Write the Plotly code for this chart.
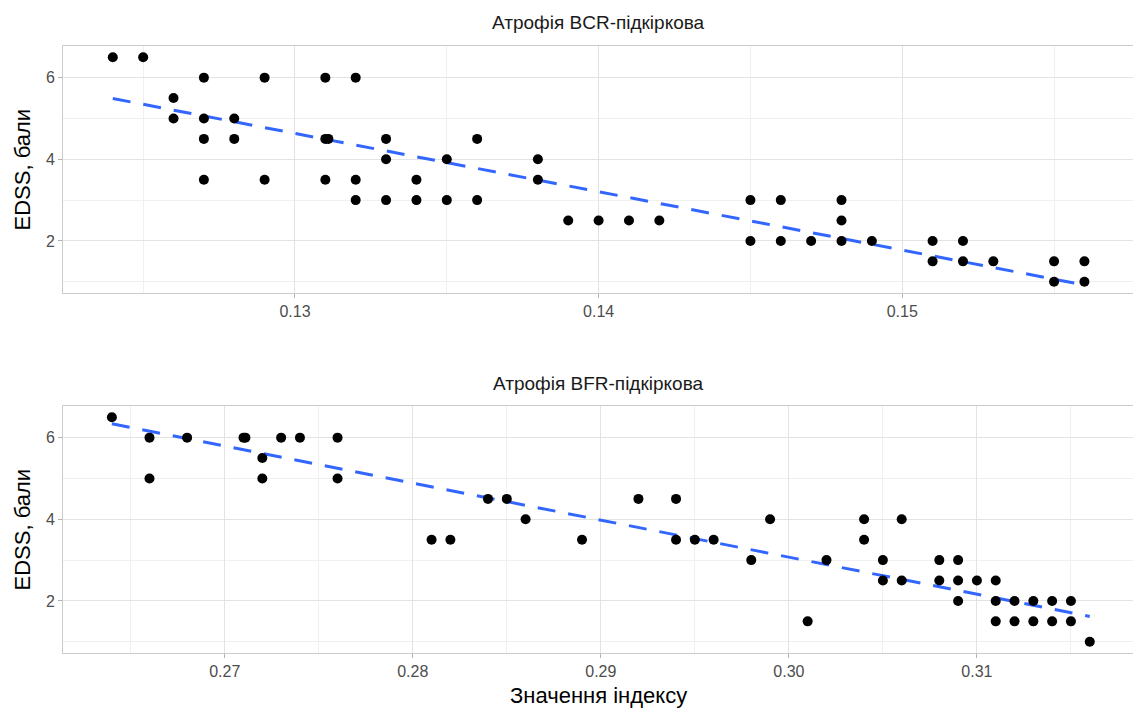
import numpy as np
import plotly.graph_objects as go

# ---- data: top panel (BCR) ----
bcr_x = [0.124, 0.125, 0.126, 0.126, 0.127, 0.127, 0.127, 0.127, 0.128, 0.128,
         0.129, 0.129, 0.131, 0.131, 0.1311, 0.131, 0.132, 0.132, 0.132,
         0.133, 0.133, 0.133, 0.134, 0.134, 0.135, 0.135, 0.136, 0.136,
         0.138, 0.138, 0.139, 0.140, 0.141, 0.142, 0.145, 0.145,
         0.146, 0.146, 0.147, 0.148, 0.148, 0.148, 0.149,
         0.151, 0.151, 0.152, 0.152, 0.153, 0.155, 0.155, 0.156, 0.156]
bcr_y = [6.5, 6.5, 5.5, 5.0, 6.0, 5.0, 4.5, 3.5, 5.0, 4.5,
         6.0, 3.5, 6.0, 4.5, 4.5, 3.5, 6.0, 3.5, 3.0,
         4.5, 4.0, 3.0, 3.5, 3.0, 4.0, 3.0, 4.5, 3.0,
         4.0, 3.5, 2.5, 2.5, 2.5, 2.5, 3.0, 2.0,
         3.0, 2.0, 2.0, 3.0, 2.5, 2.0, 2.0,
         2.0, 1.5, 2.0, 1.5, 1.5, 1.5, 1.0, 1.5, 1.0]
# linear trend (ends of the dashed line)
bcr_trend_x = [0.124, 0.156]
bcr_trend_y = [5.49, 0.92]

# ---- data: bottom panel (BFR) ----
bfr_x = [0.264, 0.266, 0.266, 0.268, 0.271, 0.2711, 0.272, 0.272, 0.273, 0.274,
         0.276, 0.276, 0.281, 0.282, 0.284, 0.285, 0.286, 0.289, 0.292,
         0.294, 0.294, 0.295, 0.296, 0.298, 0.299, 0.301, 0.302,
         0.304, 0.304, 0.305, 0.305, 0.306, 0.306, 0.308, 0.308,
         0.309, 0.309, 0.309, 0.310, 0.311, 0.311, 0.311, 0.312, 0.312,
         0.313, 0.313, 0.314, 0.314, 0.315, 0.315, 0.316]
bfr_y = [6.5, 6.0, 5.0, 6.0, 6.0, 6.0, 5.5, 5.0, 6.0, 6.0,
         6.0, 5.0, 3.5, 3.5, 4.5, 4.5, 4.0, 3.5, 4.5,
         4.5, 3.5, 3.5, 3.5, 3.0, 4.0, 1.5, 3.0,
         4.0, 3.5, 3.0, 2.5, 4.0, 2.5, 3.0, 2.5,
         3.0, 2.5, 2.0, 2.5, 2.5, 2.0, 1.5, 2.0, 1.5,
         2.0, 1.5, 2.0, 1.5, 2.0, 1.5, 1.0]
bfr_trend_x = [0.264, 0.316]
bfr_trend_y = [6.34, 1.62]

titles = ["Атрофія BCR-підкіркова", "Атрофія BFR-підкіркова"]
x_title = "Значення індексу"
y_title = "EDSS, бали"
top_ticks = [0.13, 0.14, 0.15]
bot_ticks = [0.27, 0.28, 0.29, 0.30, 0.31]
y_ticks = [2, 4, 6]

W, H = 1133, 711
ml, mr, mt, mb = 63, 0, 46, 58
ph = H - mt - mb
top_dom = [1 - 247 / ph, 1]
bot_dom = [0, 247 / ph]

fig = go.Figure()

def add_panel(xs, ys, tx, ty, xa, ya):
    fig.add_trace(go.Scatter(x=tx, y=ty, mode="lines", xaxis=xa, yaxis=ya,
                             line=dict(color="#3366FF", width=3, dash="18px,13px"),
                             showlegend=False, hoverinfo="skip"))
    fig.add_trace(go.Scatter(x=xs, y=ys, mode="markers", xaxis=xa, yaxis=ya,
                             marker=dict(color="black", size=10), showlegend=False))

add_panel(bcr_x, bcr_y, bcr_trend_x, bcr_trend_y, "x", "y")
add_panel(bfr_x, bfr_y, bfr_trend_x, bfr_trend_y, "x2", "y2")

def rng(v):
    lo, hi = min(v), max(v)
    e = (hi - lo) * 0.05
    return [lo - e, hi + e]

FONT = "Liberation Sans, Arial, sans-serif"
tickfont = dict(family=FONT, size=16, color="#4d4d4d")
axcommon = dict(showline=True, mirror=True, linecolor="#cccccc", linewidth=1,
                ticks="outside", ticklen=4, tickcolor="#b3b3b3",
                gridcolor="#e3e3e3", gridwidth=1, zeroline=False,
                tickfont=tickfont)

fig.update_layout(
    width=W, height=H, plot_bgcolor="white", paper_bgcolor="white",
    margin=dict(l=ml, r=mr, t=mt, b=mb),
    xaxis=dict(domain=[0, 1], anchor="y", range=[0.12236, 0.1576], tickvals=top_ticks,
               ticktext=[f"{t:.2f}" for t in top_ticks], **axcommon),
    yaxis=dict(domain=top_dom, anchor="x", range=rng(bcr_y), tickvals=y_ticks, **axcommon),
    xaxis2=dict(domain=[0, 1], anchor="y2", range=[0.2614, 0.3183], tickvals=bot_ticks,
                ticktext=[f"{t:.2f}" for t in bot_ticks], **axcommon),
    yaxis2=dict(domain=bot_dom, anchor="x2", range=rng(bfr_y), tickvals=y_ticks, **axcommon),
)
fig.update_xaxes(minor=dict(dtick=0.005, showgrid=True, gridcolor="#f0f0f0"))
fig.update_yaxes(minor=dict(dtick=1, showgrid=True, gridcolor="#f0f0f0"))
fig.layout.xaxis.minor.tick0 = 0.125
fig.layout.xaxis2.minor.tick0 = 0.265
fig.layout.yaxis.minor.tick0 = 1
fig.layout.yaxis2.minor.tick0 = 1

titlefont = dict(family=FONT, size=19, color="#1a1a1a")
axtitlefont = dict(family=FONT, size=22, color="#000000")
ann = [
    dict(text=titles[0], x=0.5, y=top_dom[1], xref="paper", yref="paper",
         yshift=24, showarrow=False, font=titlefont, xanchor="center", yanchor="middle"),
    dict(text=titles[1], x=0.5, y=bot_dom[1], xref="paper", yref="paper",
         yshift=23, showarrow=False, font=titlefont, xanchor="center", yanchor="middle"),
    dict(text=y_title, x=0, y=(top_dom[0] + top_dom[1]) / 2, xref="paper", yref="paper",
         xshift=-ml + 22, showarrow=False, font=axtitlefont, textangle=-90,
         xanchor="center", yanchor="middle"),
    dict(text=y_title, x=0, y=(bot_dom[0] + bot_dom[1]) / 2, xref="paper", yref="paper",
         xshift=-ml + 22, showarrow=False, font=axtitlefont, textangle=-90,
         xanchor="center", yanchor="middle"),
    dict(text=x_title, x=0.5, y=0, xref="paper", yref="paper",
         yshift=-(695 - 653), showarrow=False, font=axtitlefont,
         xanchor="center", yanchor="middle"),
]
fig.update_layout(annotations=ann)
fig.write_html("out.html")
